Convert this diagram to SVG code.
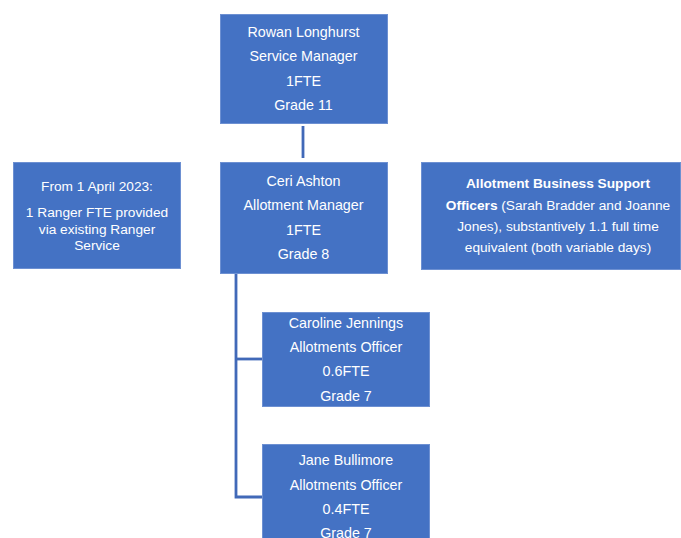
<svg xmlns="http://www.w3.org/2000/svg" width="681" height="538" viewBox="0 0 681 538">
<style>
.box{fill:#4472C4;stroke:#6d90d2;stroke-width:1}
.t{fill:#ffffff;font-family:"Liberation Sans",Arial,sans-serif;font-size:14.3px;text-anchor:middle}
.s{fill:#ffffff;font-family:"Liberation Sans",Arial,sans-serif;font-size:13.7px;text-anchor:middle}
.b{font-weight:bold}
.c{fill:none;stroke:#4169b8;stroke-width:2.8}
</style>
<rect width="681" height="538" fill="#ffffff"/>
<g id="connectors">
<line class="c" x1="303" y1="126" x2="303" y2="158"/>
<polyline class="c" points="236,274 236,497 262,497"/>
<line class="c" x1="236" y1="359" x2="262" y2="359"/>
</g>
<g id="rowan">
<rect class="box" x="220.5" y="14.5" width="167" height="109"/>
<text class="t" x="303.5" y="37">Rowan Longhurst</text>
<text class="t" x="303.5" y="61">Service Manager</text>
<text class="t" x="303.5" y="86">1FTE</text>
<text class="t" x="303.5" y="110">Grade 11</text>
</g>
<g id="ceri">
<rect class="box" x="220.5" y="162.5" width="167" height="111"/>
<text class="t" x="303.5" y="186">Ceri Ashton</text>
<text class="t" x="303.5" y="210">Allotment Manager</text>
<text class="t" x="303.5" y="235">1FTE</text>
<text class="t" x="303.5" y="259">Grade 8</text>
</g>
<g id="ranger">
<rect class="box" x="13.5" y="162.5" width="167" height="106"/>
<text class="s" x="97" y="191">From 1 April 2023:</text>
<text class="s" x="97" y="217">1 Ranger FTE provided</text>
<text class="s" x="97" y="234">via existing Ranger</text>
<text class="s" x="97" y="250">Service</text>
</g>
<g id="support">
<rect class="box" x="421.5" y="162.5" width="259" height="107"/>
<text class="s" x="558" y="188"><tspan class="b">Allotment Business Support</tspan></text>
<text class="s" x="558" y="210"><tspan class="b">Officers</tspan> (Sarah Bradder and Joanne</text>
<text class="s" x="558" y="231">Jones), substantively 1.1 full time</text>
<text class="s" x="558" y="252">equivalent (both variable days)</text>
</g>
<g id="caroline">
<rect class="box" x="262.5" y="312.5" width="167" height="94"/>
<text class="t" x="346" y="328">Caroline Jennings</text>
<text class="t" x="346" y="352">Allotments Officer</text>
<text class="t" x="346" y="376">0.6FTE</text>
<text class="t" x="346" y="401">Grade 7</text>
</g>
<g id="jane">
<rect class="box" x="262.5" y="444.5" width="167" height="100"/>
<text class="t" x="346" y="465">Jane Bullimore</text>
<text class="t" x="346" y="490">Allotments Officer</text>
<text class="t" x="346" y="514">0.4FTE</text>
<text class="t" x="346" y="538">Grade 7</text>
</g>
</svg>
